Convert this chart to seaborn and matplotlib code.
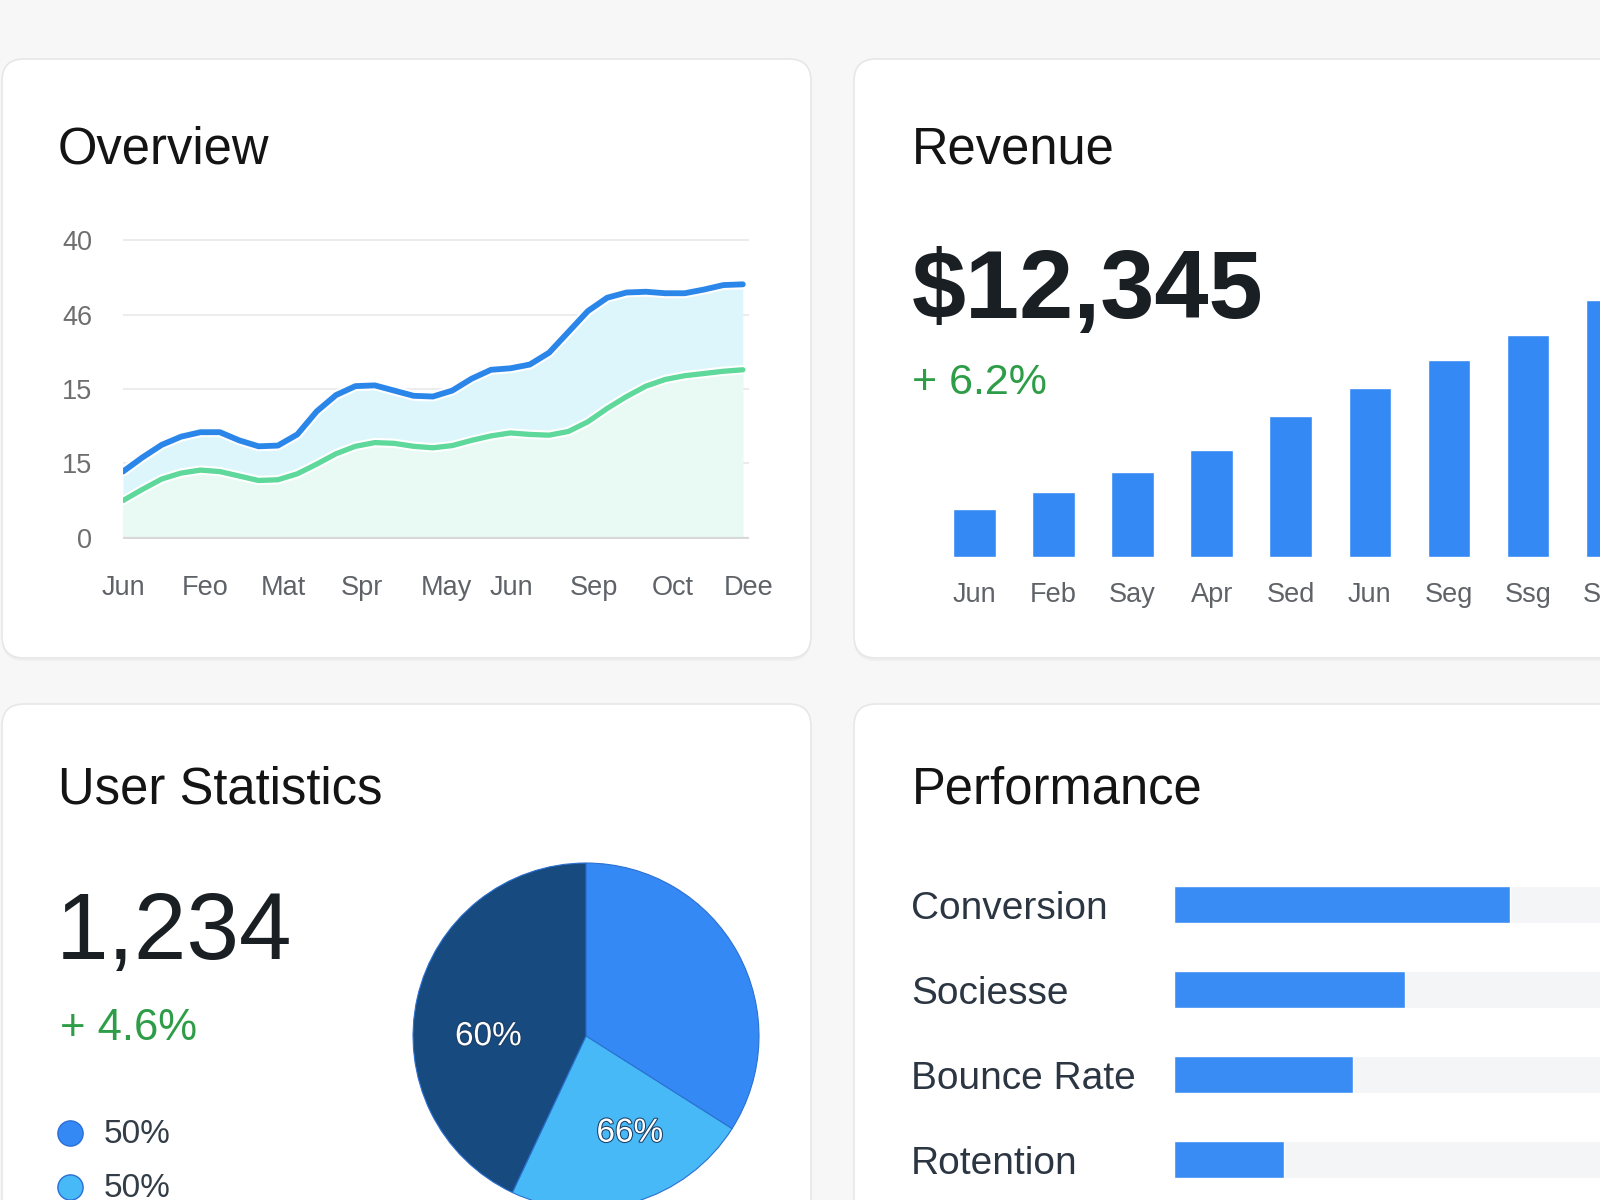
import numpy as np
import pandas as pd
import matplotlib
matplotlib.use("Agg")
import matplotlib.pyplot as plt
import matplotlib.patheffects as pe
from matplotlib.patches import FancyBboxPatch
import seaborn as sns

# ------------------- Data -------------------
# Overview (line chart), x = period index, y = grid level
overview_t = [0.0, 0.25, 0.5, 0.75, 1.0, 1.25, 1.5, 1.75, 2.0, 2.25, 2.5, 2.75,
              3.0, 3.25, 3.5, 3.75, 4.0, 4.25, 4.5, 4.75, 5.0, 5.25, 5.5, 5.75,
              6.0, 6.25, 6.5, 6.75, 7.0, 7.25, 7.5, 7.75, 8.0]
overview_blue = [0.89, 1.08, 1.25, 1.36, 1.42, 1.42, 1.31, 1.23, 1.24, 1.39, 1.70, 1.92,
                 2.04, 2.05, 1.98, 1.91, 1.90, 1.98, 2.14, 2.26, 2.28, 2.33, 2.49, 2.77,
                 3.05, 3.23, 3.30, 3.31, 3.29, 3.29, 3.34, 3.40, 3.41]
overview_green = [0.50, 0.65, 0.79, 0.87, 0.91, 0.89, 0.83, 0.77, 0.78, 0.86, 0.99, 1.13,
                  1.23, 1.28, 1.27, 1.23, 1.21, 1.24, 1.31, 1.37, 1.41, 1.39, 1.38, 1.43,
                  1.56, 1.74, 1.90, 2.04, 2.13, 2.18, 2.21, 2.24, 2.26]
overview_xtick_pos = [0.0, 1.06, 2.07, 3.08, 4.17, 5.01, 6.08, 7.09, 8.08]
overview_xtick_labels = ["Jun", "Feo", "Mat", "Spr", "May", "Jun", "Sep", "Oct", "Dee"]
overview_ytick_labels = ["0", "15", "15", "46", "40"]

# Revenue (bar chart)
rev_labels = ["Jun", "Feb", "Say", "Apr", "Sed", "Jun", "Seg", "Ssg", "Sep"]
rev_values = [48, 65, 85, 107, 141, 169, 197, 222, 257]

# User statistics (pie)
pie_values = [34, 23, 43]
pie_colors = ["#3589f5", "#46b9f6", "#174a7f"]
legend_labels = ["50%", "50%"]

# Performance (progress bars)
perf_metrics = ["Conversion", "Sociesse", "Bounce Rate", "Rotention"]
perf_values = [64, 44, 34, 21]

BG = "#f7f7f7"
BLUE = "#2b86ea"
GREEN_LINE = "#5ed89b"
GREEN_TXT = "#2e9d48"

sns.set_theme(style="white")
plt.rcParams["font.family"] = ["Liberation Sans", "DejaVu Sans"]

fig = plt.figure(figsize=(16, 12), dpi=100)
fig.patch.set_facecolor(BG)

# background axes in pixel coordinates
bg = fig.add_axes([0, 0, 1, 1], zorder=-1)
bg.set_xlim(0, 1600)
bg.set_ylim(1200, 0)
bg.axis("off")


def card(x0, y0, x1, y1):
    bg.add_patch(FancyBboxPatch((x0, y0 + 3), x1 - x0, y1 - y0,
                                boxstyle="round,pad=0,rounding_size=22",
                                fc="#efefef", ec="none"))
    bg.add_patch(FancyBboxPatch((x0, y0), x1 - x0, y1 - y0,
                                boxstyle="round,pad=0,rounding_size=22",
                                fc="white", ec="#e7e7e7", lw=1.2))


def px_axes(x0, y0, x1, y1):
    ax = fig.add_axes([x0 / 1600, 1 - y1 / 1200, (x1 - x0) / 1600, (y1 - y0) / 1200])
    ax.set_facecolor("none")
    for s in ax.spines.values():
        s.set_visible(False)
    return ax


card(2, 59, 811, 658)
card(854, 59, 1660, 658)
card(2, 704, 811, 1260)
card(854, 704, 1660, 1260)

# titles and big numbers
title_kw = dict(fontsize=36.5, color="#141414", va="baseline")
bg.text(58, 164, "Overview", **title_kw)
bg.text(912, 164, "Revenue", **title_kw)
bg.text(58, 803, "User Statistics", **title_kw)
bg.text(912, 803, "Performance", **title_kw)

bg.text(912, 318, "$12,345", fontsize=70, fontweight="bold", color="#1a1f24", va="baseline")
bg.text(912, 394, "+ 6.2%", fontsize=31, color=GREEN_TXT, va="baseline")
bg.text(56, 959, "1,234", fontsize=68, color="#1a1f24", va="baseline")
bg.text(60, 1040, "+ 4.6%", fontsize=31.5, color=GREEN_TXT, va="baseline")

# ------------------- Overview line chart -------------------
ax1 = px_axes(123, 239, 749, 539.2)
ax1.fill_between(overview_t, overview_blue, 0, color="#dcf6fc", lw=0, zorder=1)
ax1.fill_between(overview_t, overview_green, 0, color="#e9f9f3", lw=0, zorder=1.1)
sns.lineplot(x=overview_t, y=overview_blue, color=BLUE, lw=4.2, ax=ax1, zorder=3)
sns.lineplot(x=overview_t, y=overview_green, color=GREEN_LINE, lw=3.8, ax=ax1, zorder=3)
for ln in ax1.lines:
    ln.set_solid_capstyle("round")
    ln.set_solid_joinstyle("round")
    ln.set_path_effects([pe.Stroke(linewidth=ln.get_linewidth() + 3, foreground="white"), pe.Normal()])
ax1.set_xlim(0, 8)
ax1.set_ylim(-0.02, 4.02)
ax1.set_yticks(range(5))
ax1.set_yticklabels(overview_ytick_labels)
ax1.set_xticks(overview_xtick_pos)
ax1.set_xticklabels(overview_xtick_labels)
ax1.yaxis.grid(True, color="#ececec", lw=1.4)
ax1.set_axisbelow(True)
ax1.axhline(0, color="#d8d8d8", lw=1.6, zorder=2)
ax1.tick_params(axis="y", length=0, pad=22, labelsize=19.5, labelcolor="#6e6e6e")
ax1.tick_params(axis="x", length=0, pad=26, labelsize=19.5, labelcolor="#5f6368")
ax1.set_xlabel("")
ax1.set_ylabel("")

# ------------------- Revenue bar chart -------------------
df_rev = pd.DataFrame({"pos": range(len(rev_values)), "value": rev_values})
ax2 = px_axes(900, 280, 1700, 557.3)
sns.barplot(data=df_rev, x="pos", y="value", color="#3589f5", saturation=1,
            width=0.54, ax=ax2)
ax2.set_xlim(-0.942, 9.175)
ax2.set_ylim(0, 277.3)
ax2.set_xticks(range(len(rev_labels)))
ax2.set_xticklabels(rev_labels)
ax2.set_yticks([])
ax2.tick_params(axis="x", length=0, pad=18, labelsize=19.5, labelcolor="#5f6368")
ax2.set_xlabel("")
ax2.set_ylabel("")

# ------------------- User statistics pie -------------------
ax3 = px_axes(586 - 174.7, 1036 - 174.7, 586 + 174.7, 1036 + 174.7)
ax3.pie(pie_values, colors=pie_colors, startangle=90, counterclock=False,
        wedgeprops=dict(edgecolor="#2a70d2", linewidth=0.8))
ax3.set_xlim(-1.01, 1.01)
ax3.set_ylim(-1.01, 1.01)
lab_kw = dict(fontsize=24, color="white", ha="center", va="center",
              path_effects=[pe.withStroke(linewidth=1.5, foreground="#1d3f66")])
ax3.text(-0.564, -0.004, "60%", **lab_kw)
ax3.text(0.254, -0.562, "66%", **lab_kw)

# legend
for yy, col, lab in zip([1132.7, 1186.7], pie_colors[:2], legend_labels):
    bg.scatter([70.4], [yy], s=330, color=col, edgecolor="#2a6fd6", lw=1, zorder=3)
    bg.text(104, yy + 2, lab, fontsize=24, color="#333d47", va="center")

# ------------------- Performance bars -------------------
df_perf = pd.DataFrame({"metric": perf_metrics, "value": perf_values,
                        "track": [100] * len(perf_metrics)})
ax4 = px_axes(1173.5, 862.2, 1700, 1202.2)
sns.barplot(data=df_perf, x="track", y="metric", color="#f4f5f7", saturation=1,
            width=0.435, ax=ax4)
sns.barplot(data=df_perf, x="value", y="metric", color="#3a8cf5", saturation=1,
            width=0.435, ax=ax4)
ax4.set_xlim(0, 100)
ax4.set_ylim(3.5, -0.5)
ax4.set_xticks([])
ax4.set_yticks(range(len(perf_metrics)))
ax4.set_yticklabels(perf_metrics, ha="left")
ax4.tick_params(axis="y", length=0, pad=189, labelsize=28, labelcolor="#2b3642")
ax4.set_xlabel("")
ax4.set_ylabel("")

fig.savefig("out.png", dpi=100, facecolor=BG)
